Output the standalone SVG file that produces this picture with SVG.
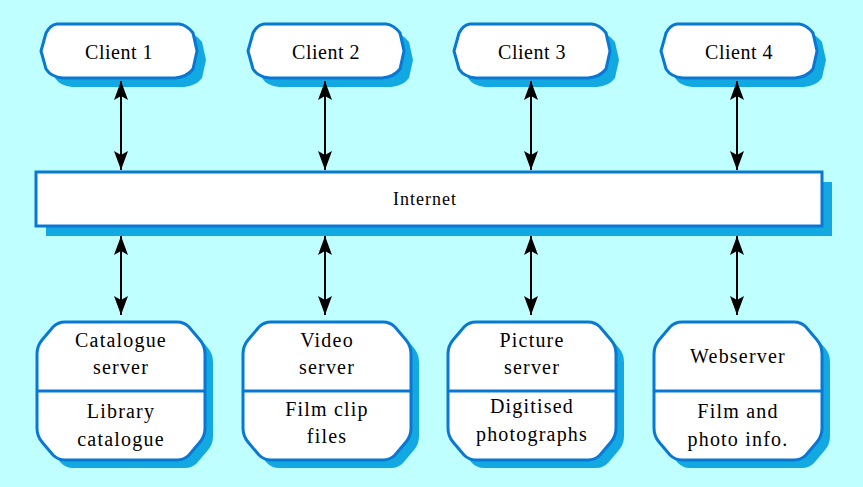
<svg xmlns="http://www.w3.org/2000/svg" xmlns:xlink="http://www.w3.org/1999/xlink" width="863" height="487" viewBox="0 0 863 487">
<style>
.bg{fill:#c0ffff}
.shadow{fill:#12a8e2;stroke:none}
.box{fill:#ffffff;stroke:#0a78d2;stroke-width:3}
.div{stroke:#0a78d2;stroke-width:3}
.lbl{font-family:'Liberation Serif','DejaVu Serif',serif;font-size:20px;fill:#000;text-anchor:middle;letter-spacing:0.5px}
.sl{letter-spacing:1.2px}
.conn{stroke:#000;stroke-width:2;fill:none;marker-start:url(#ah);marker-end:url(#ah)}
</style>
<defs>
<marker id="ah" markerUnits="userSpaceOnUse" viewBox="-20 -8 20 16" refX="0" refY="0" markerWidth="20" markerHeight="16" orient="auto-start-reverse">
<path d="M0,0 L-19,-7 L-15,0 L-19,7 Z" fill="#000"/>
</marker>
<path id="cl" d="M16,0 H138 Q146,1 152,9 L156,27 L152,45 Q146,53 134,54 H22 Q10,53 5,45 L0,27 L5,9 Q9,1 16,0 Z"/>
<path id="sv" d="M28,0 H140 Q147,0 152,5 L163,18 Q168,24 168,32 V106 Q168,114 163,120 L152,133 Q147,138 140,138 H28 Q21,138 16,133 L5,120 Q0,114 0,106 V32 Q0,24 5,18 L16,5 Q21,0 28,0 Z"/>
</defs>
<rect class="bg" x="0" y="0" width="863" height="487"/>

<g id="client1">
<use xlink:href="#cl" class="shadow" x="50" y="33"/>
<use xlink:href="#cl" class="box" x="41" y="24"/>
<text class="lbl" x="119" y="59" font-family="Liberation Serif, DejaVu Serif, serif">Client 1</text>
</g>
<g id="client2">
<use xlink:href="#cl" class="shadow" x="257" y="33"/>
<use xlink:href="#cl" class="box" x="248" y="24"/>
<text class="lbl" x="326" y="59" font-family="Liberation Serif, DejaVu Serif, serif">Client 2</text>
</g>
<g id="client3">
<use xlink:href="#cl" class="shadow" x="463" y="33"/>
<use xlink:href="#cl" class="box" x="454" y="24"/>
<text class="lbl" x="532" y="59" font-family="Liberation Serif, DejaVu Serif, serif">Client 3</text>
</g>
<g id="client4">
<use xlink:href="#cl" class="shadow" x="670" y="33"/>
<use xlink:href="#cl" class="box" x="661" y="24"/>
<text class="lbl" x="739" y="59" font-family="Liberation Serif, DejaVu Serif, serif">Client 4</text>
</g>

<g id="internet">
<rect class="shadow" x="46" y="182" width="786" height="54"/>
<rect class="box" x="36" y="172" width="786" height="54"/>
<text class="lbl" x="425" y="205" style="font-size:18px;letter-spacing:1px" font-family="Liberation Serif, DejaVu Serif, serif">Internet</text>
</g>

<g id="catalogue-server" font-family="Liberation Serif, DejaVu Serif, serif">
<use xlink:href="#sv" class="shadow" x="45" y="330"/>
<use xlink:href="#sv" class="box" x="37" y="322"/>
<line class="div" x1="37" y1="391" x2="205" y2="391"/>
<text class="lbl sl" x="121" y="347">Catalogue</text>
<text class="lbl sl" x="121" y="374">server</text>
<text class="lbl sl" x="121" y="418">Library</text>
<text class="lbl sl" x="121" y="446">catalogue</text>
</g>
<g id="video-server" font-family="Liberation Serif, DejaVu Serif, serif">
<use xlink:href="#sv" class="shadow" x="251" y="330"/>
<use xlink:href="#sv" class="box" x="243" y="322"/>
<line class="div" x1="243" y1="391" x2="411" y2="391"/>
<text class="lbl sl" x="327" y="347">Video</text>
<text class="lbl sl" x="327" y="374">server</text>
<text class="lbl sl" x="327" y="416">Film clip</text>
<text class="lbl sl" x="327" y="443">files</text>
</g>
<g id="picture-server" font-family="Liberation Serif, DejaVu Serif, serif">
<use xlink:href="#sv" class="shadow" x="456" y="330"/>
<use xlink:href="#sv" class="box" x="448" y="322"/>
<line class="div" x1="448" y1="391" x2="616" y2="391"/>
<text class="lbl sl" x="532" y="347">Picture</text>
<text class="lbl sl" x="532" y="374">server</text>
<text class="lbl sl" x="532" y="413">Digitised</text>
<text class="lbl sl" x="532" y="441">photographs</text>
</g>
<g id="web-server" font-family="Liberation Serif, DejaVu Serif, serif">
<use xlink:href="#sv" class="shadow" x="662" y="330"/>
<use xlink:href="#sv" class="box" x="654" y="322"/>
<line class="div" x1="654" y1="391" x2="822" y2="391"/>
<text class="lbl sl" x="738" y="363">Webserver</text>
<text class="lbl sl" x="738" y="418">Film and</text>
<text class="lbl sl" x="738" y="446">photo info.</text>
</g>

<g id="connectors">
<line class="conn" x1="121" y1="81" x2="121" y2="170"/>
<line class="conn" x1="325" y1="81" x2="325" y2="170"/>
<line class="conn" x1="531" y1="81" x2="531" y2="170"/>
<line class="conn" x1="737" y1="81" x2="737" y2="170"/>
<line class="conn" x1="121" y1="236" x2="121" y2="315"/>
<line class="conn" x1="325" y1="236" x2="325" y2="315"/>
<line class="conn" x1="531" y1="236" x2="531" y2="315"/>
<line class="conn" x1="737" y1="236" x2="737" y2="315"/>
</g>
</svg>
